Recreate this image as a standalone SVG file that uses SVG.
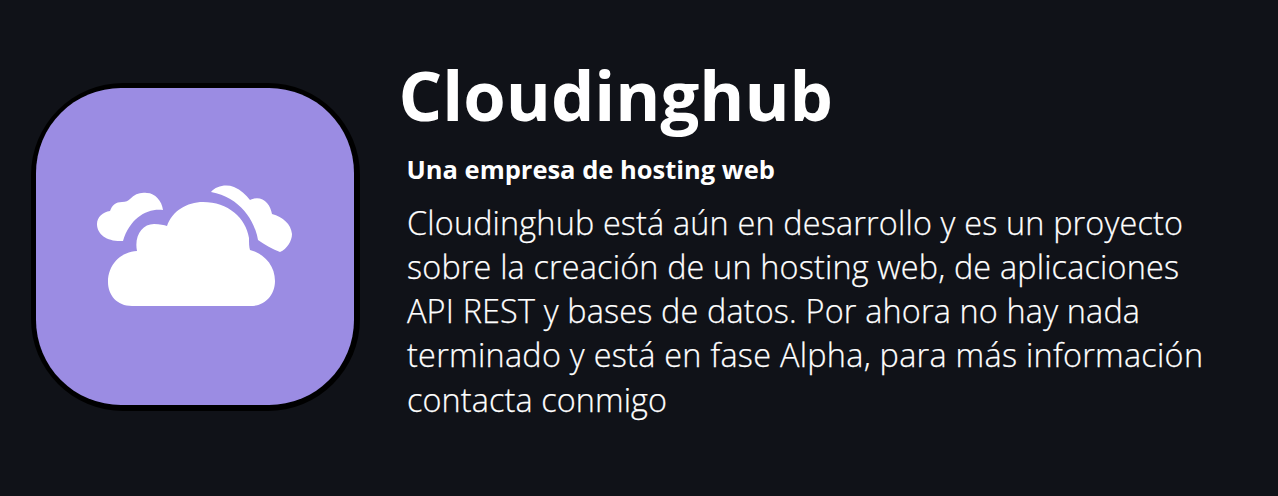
<svg xmlns="http://www.w3.org/2000/svg" width="1278" height="496" viewBox="0 0 1278 496">
<defs><filter id="soft" x="-5%" y="-5%" width="110%" height="110%"><feGaussianBlur stdDeviation="0.7"/></filter></defs>
<style>
text{font-family:"Open Sans","Noto Sans",sans-serif;fill:#fff}
.b{font-size:32.4px;font-weight:300;stroke:#fff;stroke-width:.25px}
</style>
<rect width="1278" height="496" fill="#101218"/>
<g id="logo" filter="url(#soft)">
<rect x="31" y="83" width="329" height="328" rx="92" fill="#000"/>
<rect x="36" y="88" width="318" height="317" rx="85" fill="#9b8ce3"/>
<path fill="#fff" d="M132 306C117 306 108 295 108 282C108 265 120 252 137 251C134 236 142 224 154 224C160 224 164 225 167 226C172 211 187 202 203 202C228 202 246 218 249 238C249 243 249 247 250 250C265 254 275 266 275 281C275 295 265 306 251 306Z"/>
<path fill="#fff" d="M123 241C108 242 97 235 97 224C97 217 103 212 110 211C112 205 116 202 122 202C126 202 128 201 130 199C135 194 140 192 147 193C155 193 162 201 163 210C147 208 130 218 123 241Z"/>
<path fill="#fff" d="M211 192C216 186 226 184 234 187C241 190 246 195 250 200C256 197 263 198 267 203C270 206 271 210 272 214C283 217 291 224 292 234C292 241 287 249 280 252C272 249 264 244 258 240C255 221 240 197 211 192Z"/>
</g>
<g id="text">
<text x="398.500" y="121" font-size="68.700" font-weight="700">Cloudinghub</text>
<text x="406.500" y="179" font-size="25.500" font-weight="700">Una empresa de hosting web</text>
<text class="b" x="407" y="235" textLength="776">Cloudinghub está aún en desarrollo y es un proyecto</text>
<text class="b" x="407" y="279" textLength="772">sobre la creación de un hosting web, de aplicaciones</text>
<text class="b" x="407" y="323" textLength="733">API REST y bases de datos. Por ahora no hay nada</text>
<text class="b" x="407" y="367" textLength="796">terminado y está en fase Alpha, para más información</text>
<text class="b" x="407" y="412" textLength="260">contacta conmigo</text>
</g>
</svg>
